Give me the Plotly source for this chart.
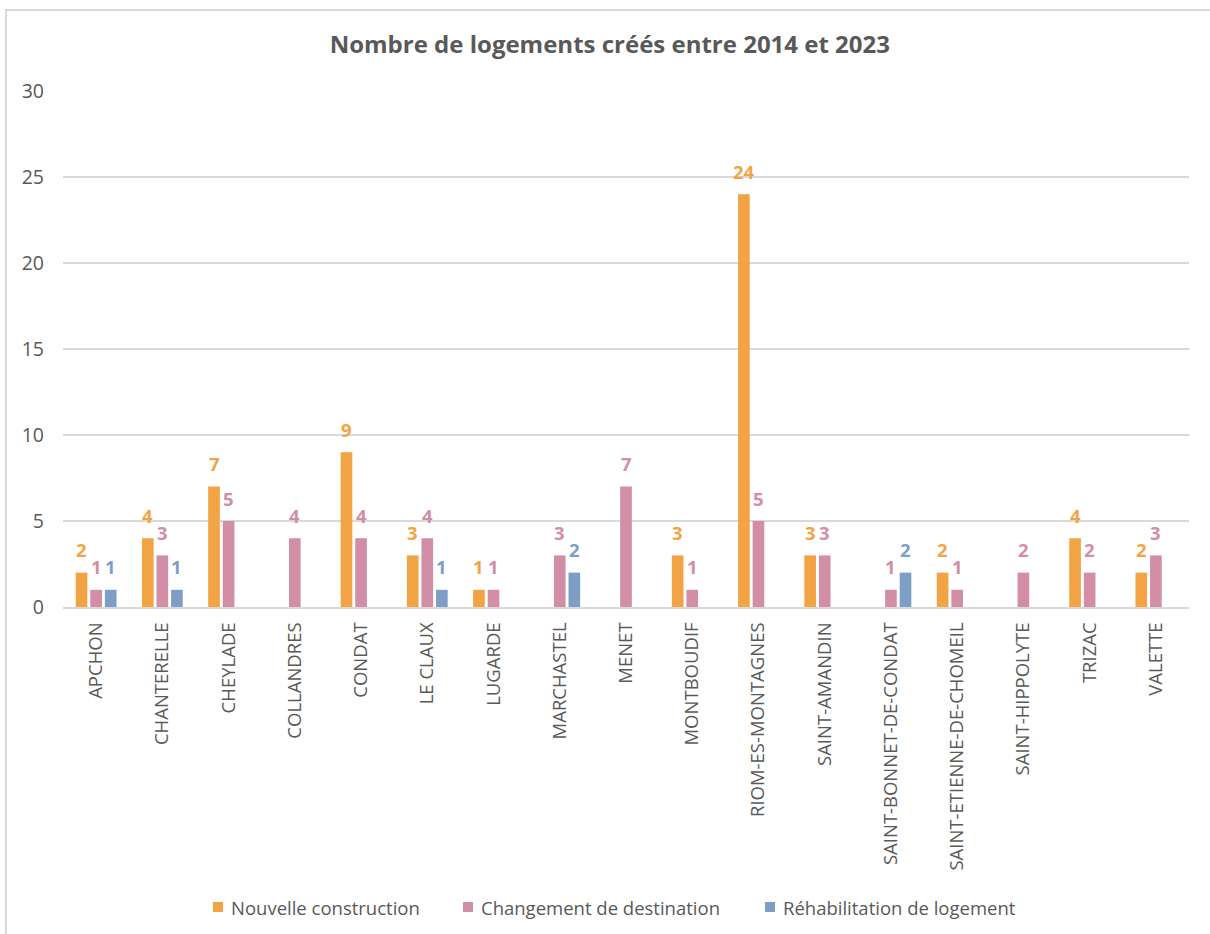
import plotly.graph_objects as go

communes = [
    "APCHON", "CHANTERELLE", "CHEYLADE", "COLLANDRES", "CONDAT", "LE CLAUX",
    "LUGARDE", "MARCHASTEL", "MENET", "MONTBOUDIF", "RIOM-ES-MONTAGNES",
    "SAINT-AMANDIN", "SAINT-BONNET-DE-CONDAT", "SAINT-ETIENNE-DE-CHOMEIL",
    "SAINT-HIPPOLYTE", "TRIZAC", "VALETTE",
]
nouvelle_construction = [2, 4, 7, None, 9, 3, 1, None, None, 3, 24, 3, None, 2, None, 4, 2]
changement_destination = [1, 3, 5, 4, 4, 4, 1, 3, 7, 1, 5, 3, 1, 1, 2, 2, 3]
rehabilitation = [1, 1, None, None, None, 1, None, 2, None, None, None, None, 2, None, None, None, None]

y_ticks = [0, 5, 10, 15, 20, 25, 30]

series = [
    ("Nouvelle construction", nouvelle_construction, "#F2A444"),
    ("Changement de destination", changement_destination, "#D18EA6"),
    ("Réhabilitation de logement", rehabilitation, "#7F9EC6"),
]

FONT = "Open Sans, Noto Sans, sans-serif"
GRAY = "#595959"
GRID = "#D9D9D9"

W, H = 1210, 934
M_L, M_R, M_T, M_B = 63, 21, 91, 327
PLOT_W = W - M_L - M_R
PLOT_H = H - M_T - M_B
BARGAP, BARGROUPGAP = 0.34, 0.2


def px_x(px):
    return (px - M_L) / PLOT_W


def px_y(py):
    return (H - M_B - py) / PLOT_H


fig = go.Figure()
for name, vals, color in series:
    fig.add_trace(go.Bar(
        name=name,
        x=communes,
        y=vals,
        marker=dict(color=color, line=dict(width=0)),
        showlegend=False,
    ))

# value labels above each bar, centred on its slot within the group
slot = PLOT_W / len(communes) * (1 - BARGAP) / len(series)
annotations = []
for i, (name, vals, color) in enumerate(series):
    shift = (i - (len(series) - 1) / 2) * slot
    for c, v in zip(communes, vals):
        if v:
            annotations.append(dict(
                x=c, y=v, xref="x", yref="y",
                text=f"<b>{v}</b>", showarrow=False,
                xanchor="center", yanchor="middle",
                xshift=shift, yshift=23,
                font=dict(family=FONT, size=18.5, color=color),
            ))

# legend row under the chart
legend_x = [213, 463, 765]
legend_y = 907
shapes = [dict(
    type="rect", xref="paper", yref="paper",
    x0=px_x(6), x1=px_x(1230), y0=px_y(950), y1=px_y(10),
    line=dict(color=GRID, width=2), fillcolor="rgba(0,0,0,0)", layer="below",
)]
for (name, vals, color), lx in zip(series, legend_x):
    shapes.append(dict(
        type="rect", xref="paper", yref="paper",
        x0=px_x(lx), x1=px_x(lx + 10),
        y0=px_y(legend_y + 5), y1=px_y(legend_y - 5),
        line=dict(width=0), fillcolor=color,
    ))
    annotations.append(dict(
        x=px_x(lx + 16), y=px_y(legend_y), xref="paper", yref="paper",
        text=name, showarrow=False, xanchor="left", yanchor="middle",
        font=dict(family=FONT, size=18.5, color=GRAY),
    ))

fig.update_layout(
    width=W,
    height=H,
    margin=dict(l=M_L, r=M_R, t=M_T, b=M_B),
    paper_bgcolor="white",
    plot_bgcolor="white",
    barmode="group",
    bargap=BARGAP,
    bargroupgap=BARGROUPGAP,
    showlegend=False,
    title=dict(
        text="<b>Nombre de logements créés entre 2014 et 2023</b>",
        x=0.504, xanchor="center", y=1 - 45 / H, yanchor="middle",
        font=dict(family=FONT, size=24, color=GRAY),
    ),
    xaxis=dict(
        tickangle=-90,
        tickfont=dict(family=FONT, size=18.5, color=GRAY),
        showgrid=False,
        showline=True, linecolor=GRID, linewidth=2,
        ticks="", ticklabelstandoff=6,
    ),
    yaxis=dict(
        range=[0, 30],
        tickvals=y_ticks,
        tickfont=dict(family=FONT, size=19.5, color=GRAY),
        showgrid=True, gridcolor=GRID, gridwidth=2,
        zeroline=False, showline=False,
        ticks="", ticklabelstandoff=18,
    ),
    annotations=annotations,
    shapes=shapes,
)

fig.write_html("out.html")
